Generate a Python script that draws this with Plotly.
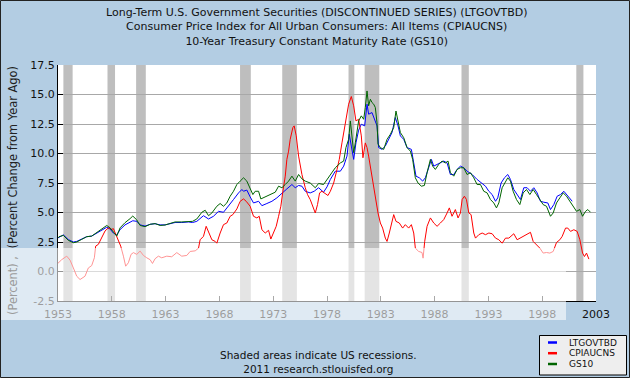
import plotly.graph_objects as go

# ---------------- data ----------------
ltgov_years = [1953.0, 1953.09, 1953.50, 1953.96, 1954.43, 1954.74, 1955.20, 1955.67, 1956.13, 1956.60,
               1957.06, 1957.53, 1957.84, 1958.15, 1958.46, 1958.77, 1959.23, 1959.70, 1959.95, 1960.32,
               1960.63, 1961.09, 1961.56, 1962.02, 1962.49, 1962.95, 1963.42, 1963.88, 1964.50, 1965.12,
               1965.50, 1965.90, 1966.52, 1966.99, 1967.45, 1967.92, 1968.38, 1968.85, 1969.31, 1969.78,
               1970.09, 1970.24, 1970.55, 1970.86, 1971.17, 1971.64, 1971.95, 1972.41, 1972.88, 1973.34,
               1973.81, 1974.27, 1974.74, 1975.05, 1975.36, 1975.67, 1975.98, 1976.44, 1976.81, 1977.22,
               1977.68, 1978.00, 1978.31, 1978.77, 1979.24, 1979.55, 1979.86, 1980.07, 1980.26, 1980.48,
               1980.69, 1980.94, 1981.19, 1981.50, 1981.72, 1981.87, 1982.18, 1982.43, 1982.65, 1982.80,
               1983.11, 1983.42, 1983.73, 1984.04, 1984.35, 1984.60, 1984.82, 1985.13, 1985.44, 1985.84,
               1986.06, 1986.27, 1986.58, 1986.89, 1987.14, 1987.39, 1987.70, 1987.92, 1988.23, 1988.54,
               1988.85, 1989.16, 1989.47, 1989.78, 1990.09, 1990.40, 1990.71, 1991.02, 1991.49, 1991.95,
               1992.26, 1992.73, 1993.04, 1993.35, 1993.66, 1993.87, 1994.18, 1994.49, 1994.80, 1995.05,
               1995.36, 1995.67, 1995.98, 1996.29, 1996.60, 1996.91, 1997.22, 1997.53, 1997.84, 1998.15,
               1998.52, 1998.77, 1999.08, 1999.39, 1999.70, 2000.01, 2000.26, 2000.57, 2000.79]
ltgov_vals = [2.85, 2.90, 3.10, 2.70, 2.50, 2.55, 2.75, 2.95, 3.00, 3.25,
              3.50, 3.75, 3.60, 3.25, 3.10, 3.55, 3.95, 4.20, 4.30, 4.25,
              3.95, 3.85, 4.00, 4.05, 3.95, 3.95, 4.05, 4.15, 4.15, 4.20,
              4.15, 4.25, 4.73, 4.45, 4.68, 5.10, 5.02, 5.53, 6.10, 6.66,
              6.95, 6.80, 6.90, 6.32, 5.81, 5.95, 5.58, 5.76, 5.95, 6.24,
              6.66, 7.00, 7.37, 7.10, 7.29, 7.23, 6.80, 6.66, 6.80, 7.10,
              6.72, 7.17, 7.80, 8.50, 8.50, 8.93, 9.78, 11.63, 10.63, 9.50,
              10.90, 11.98, 12.48, 12.34, 14.18, 13.33, 13.47, 12.90, 12.34, 10.50,
              10.35, 10.63, 11.20, 11.77, 13.05, 12.34, 11.49, 11.20, 10.50, 10.35,
              9.20, 8.08, 7.94, 7.66, 7.94, 8.65, 9.50, 8.93, 9.07, 9.20,
              9.36, 9.20, 8.22, 8.22, 8.65, 8.93, 8.79, 8.50, 8.22, 7.80,
              7.57, 7.23, 6.80, 6.52, 5.95, 6.24, 7.50, 7.94, 8.22, 7.80,
              6.95, 6.52, 6.10, 7.10, 7.10, 6.80, 7.10, 6.66, 5.95, 5.87,
              5.81, 5.25, 5.67, 6.38, 6.52, 6.80, 6.52, 6.10, 5.95]

cpi_years = [1953.0, 1953.09, 1953.34, 1953.81, 1954.12, 1954.43, 1954.74, 1955.05, 1955.51, 1955.82,
             1956.13, 1956.38, 1956.50, 1956.75, 1957.06, 1957.37, 1957.68, 1957.99, 1958.15, 1958.30,
             1958.61, 1958.83, 1959.08, 1959.29, 1959.54, 1959.79, 1960.01, 1960.32, 1960.63, 1960.94,
             1961.25, 1961.56, 1961.78, 1962.02, 1962.33, 1962.64, 1963.11, 1963.57, 1964.04, 1964.50,
             1964.97, 1965.28, 1965.75, 1966.06, 1966.21, 1966.52, 1966.77, 1966.99, 1967.30, 1967.61,
             1967.76, 1968.07, 1968.38, 1968.69, 1969.00, 1969.25, 1969.62, 1969.93, 1970.24, 1970.49,
             1970.86, 1971.17, 1971.48, 1971.70, 1971.95, 1972.26, 1972.57, 1972.78, 1973.03, 1973.28,
             1973.50, 1973.71, 1973.90, 1974.12, 1974.27, 1974.43, 1974.58, 1974.83, 1974.95, 1975.14,
             1975.36, 1975.67, 1975.98, 1976.19, 1976.44, 1976.69, 1976.91, 1977.12, 1977.31, 1977.53,
             1977.84, 1978.09, 1978.31, 1978.62, 1978.93, 1979.14, 1979.39, 1979.64, 1979.86, 1980.01,
             1980.26, 1980.48, 1980.69, 1980.94, 1981.19, 1981.34, 1981.56, 1981.72, 1981.87, 1982.09,
             1982.34, 1982.55, 1982.74, 1982.96, 1983.17, 1983.42, 1983.58, 1983.79, 1984.04, 1984.20,
             1984.41, 1984.72, 1985.03, 1985.28, 1985.59, 1985.84, 1986.06, 1986.21, 1986.52, 1986.83,
             1986.93, 1987.08, 1987.30, 1987.61, 1987.92, 1988.23, 1988.54, 1988.85, 1989.16, 1989.37,
             1989.62, 1989.93, 1990.18, 1990.40, 1990.56, 1990.77, 1990.96, 1991.18, 1991.39, 1991.64,
             1991.80, 1992.11, 1992.42, 1992.73, 1993.04, 1993.35, 1993.66, 1993.97, 1994.28, 1994.59,
             1994.90, 1995.36, 1995.67, 1995.98, 1996.29, 1996.60, 1996.91, 1997.16, 1997.47, 1997.78,
             1998.09, 1998.40, 1998.71, 1999.02, 1999.33, 1999.64, 1999.86, 2000.17, 2000.38, 2000.63,
             2000.94, 2001.25, 2001.50, 2001.75, 2001.93, 2002.12, 2002.34]
cpi_vals = [0.70, 0.80, 1.00, 1.30, 0.96, 0.30, -0.40, -0.68, -0.40, 0.30,
            0.50, 1.16, 2.15, 2.30, 2.87, 3.43, 3.70, 3.57, 3.63, 3.30,
            2.58, 2.15, 1.30, 0.45, 0.74, 1.45, 1.60, 1.45, 1.73, 1.36,
            1.16, 1.00, 0.68, 1.08, 1.30, 1.16, 1.30, 1.25, 1.60, 1.30,
            1.36, 1.70, 1.75, 1.98, 2.69, 2.98, 3.83, 3.40, 2.69, 2.55,
            2.40, 3.26, 3.97, 4.11, 4.68, 4.82, 5.30, 5.95, 6.15, 5.95,
            5.53, 4.68, 4.54, 4.68, 3.54, 3.26, 3.49, 2.75, 3.26, 3.83,
            4.68, 5.53, 6.80, 8.08, 9.50, 10.20, 11.20, 12.20, 12.34, 11.50,
            9.78, 8.22, 7.10, 6.52, 6.10, 5.53, 4.96, 5.67, 6.66, 6.80,
            6.60, 6.44, 6.80, 7.50, 8.65, 9.50, 10.90, 12.34, 13.47, 14.18,
            14.83, 14.04, 12.76, 12.90, 11.49, 9.64, 10.90, 10.50, 9.78, 8.50,
            6.95, 6.10, 4.96, 4.11, 3.68, 2.83, 2.55, 3.26, 4.25, 4.82,
            4.25, 4.11, 3.68, 3.97, 3.68, 3.97, 3.26, 1.98, 1.70, 1.61,
            1.13, 2.55, 3.83, 4.54, 4.11, 3.83, 4.11, 4.40, 4.96, 5.39,
            4.68, 5.25, 4.54, 4.96, 6.10, 6.38, 6.10, 4.96, 4.82, 3.26,
            2.83, 3.12, 3.26, 3.12, 3.26, 3.20, 2.83, 2.69, 2.40, 2.83,
            2.83, 3.20, 2.69, 2.83, 2.98, 3.12, 3.32, 2.55, 2.27, 1.98,
            1.56, 1.61, 1.56, 1.70, 2.46, 2.69, 2.98, 3.68, 3.68, 3.40,
            3.54, 3.40, 2.69, 1.56, 1.27, 1.56, 1.05]

gs10_years = [1953.0, 1953.09, 1953.50, 1953.96, 1954.43, 1954.74, 1955.20, 1955.67, 1956.13, 1956.60,
              1957.06, 1957.53, 1957.84, 1958.15, 1958.46, 1958.77, 1959.23, 1959.70, 1959.95, 1960.32,
              1960.63, 1961.09, 1961.56, 1962.02, 1962.49, 1962.95, 1963.42, 1963.88, 1964.50, 1965.12,
              1965.50, 1965.90, 1966.37, 1966.68, 1966.99, 1967.30, 1967.76, 1968.07, 1968.38, 1968.69,
              1969.00, 1969.31, 1969.62, 1969.93, 1970.24, 1970.55, 1970.86, 1971.11, 1971.33, 1971.64,
              1971.85, 1972.26, 1972.72, 1973.19, 1973.50, 1973.81, 1974.12, 1974.43, 1974.74, 1975.05,
              1975.36, 1975.67, 1975.98, 1976.44, 1976.91, 1977.22, 1977.68, 1978.00, 1978.31, 1978.77,
              1979.24, 1979.55, 1979.76, 1980.01, 1980.17, 1980.32, 1980.48, 1980.63, 1980.79, 1980.94,
              1981.19, 1981.41, 1981.56, 1981.72, 1981.87, 1982.03, 1982.18, 1982.34, 1982.49, 1982.65,
              1982.74, 1982.96, 1983.27, 1983.58, 1983.89, 1984.20, 1984.41, 1984.60, 1984.82, 1985.13,
              1985.44, 1985.75, 1985.96, 1986.21, 1986.46, 1986.77, 1987.05, 1987.30, 1987.61, 1987.82,
              1988.07, 1988.38, 1988.69, 1989.00, 1989.25, 1989.47, 1989.78, 1990.09, 1990.40, 1990.71,
              1991.02, 1991.33, 1991.64, 1991.95, 1992.26, 1992.57, 1992.88, 1993.19, 1993.50, 1993.75,
              1993.97, 1994.28, 1994.59, 1994.80, 1995.05, 1995.30, 1995.61, 1995.92, 1996.23, 1996.54,
              1996.85, 1997.16, 1997.47, 1997.78, 1998.09, 1998.40, 1998.62, 1998.77, 1999.02, 1999.33,
              1999.64, 1999.95, 2000.26, 2000.57, 2000.88, 2001.19, 2001.50, 2001.75, 2002.03, 2002.24,
              2002.49]
gs10_vals = [2.85, 2.95, 3.06, 2.64, 2.44, 2.50, 2.72, 2.95, 3.00, 3.30,
             3.57, 3.90, 3.70, 3.30, 3.00, 3.70, 4.14, 4.48, 4.70, 4.37,
             3.90, 3.80, 4.00, 4.06, 3.90, 3.94, 4.06, 4.20, 4.20, 4.20,
             4.25, 4.45, 5.02, 5.19, 4.73, 4.96, 5.53, 5.76, 5.53, 5.81,
             6.38, 6.80, 7.37, 7.66, 7.94, 7.66, 6.95, 6.52, 6.80, 6.80,
             6.15, 6.32, 6.52, 6.72, 7.23, 7.10, 7.37, 7.66, 8.08, 7.66,
             8.22, 7.85, 7.66, 7.50, 7.10, 7.46, 7.37, 7.80, 8.22, 8.79,
             9.20, 9.36, 10.50, 11.20, 12.76, 11.34, 10.07, 10.90, 11.90, 12.76,
             13.19, 12.90, 13.90, 15.30, 14.04, 14.60, 14.32, 14.18, 13.90, 12.60,
             10.80, 10.50, 10.35, 11.20, 11.63, 12.20, 13.60, 12.76, 11.77, 11.34,
             10.50, 10.20, 9.50, 7.94, 7.50, 7.23, 7.29, 8.37, 9.50, 8.93,
             8.65, 9.07, 9.36, 9.20, 9.36, 8.37, 8.08, 8.65, 8.79, 8.79,
             8.22, 8.37, 7.94, 7.37, 7.37, 6.80, 6.66, 6.10, 5.81, 5.39,
             5.81, 7.10, 7.66, 7.94, 7.66, 6.80, 6.10, 5.67, 6.66, 6.95,
             6.52, 6.95, 6.52, 6.10, 5.67, 5.53, 5.10, 4.68, 4.96, 5.81,
             6.24, 6.66, 6.38, 5.95, 5.53, 5.10, 5.25, 4.68, 5.10, 5.25,
             5.02]

series_names = ["LTGOVTBD", "CPIAUCNS", "GS10"]
series_colors = ["#0000FF", "#FF0000", "#006400"]

recession_start = [1953.50, 1957.60, 1960.26, 1969.92, 1973.84, 1980.00, 1981.50, 1990.50, 2001.17]
recession_end = [1954.36, 1958.30, 1961.16, 1970.92, 1975.20, 1980.54, 1982.86, 1991.18, 2001.83]

x_tick_vals = [1953, 1958, 1963, 1968, 1973, 1978, 1983, 1988, 1993, 1998, 2003]
x_tick_text = ["1953", "1958", "1963", "1968", "1973", "1978", "1983", "1988", "1993", "1998", "2003"]
y_tick_vals = [-2.5, 0.0, 2.5, 5.0, 7.5, 10.0, 12.5, 15.0, 17.5]
y_tick_text = ["-2.5", "0.0", "2.5", "5.0", "7.5", "10.0", "12.5", "15.0", "17.5"]

title_lines = [
    "Long-Term U.S. Government Securities (DISCONTINUED SERIES) (LTGOVTBD)",
    "Consumer Price Index for All Urban Consumers: All Items (CPIAUCNS)",
    "10-Year Treasury Constant Maturity Rate (GS10)",
]
footer_lines = ["Shaded areas indicate US recessions.", "2011 research.stlouisfed.org"]
y_title_parts = ["(Percent) ,", "(Percent Change from Year Ago)"]

# ---------------- figure ----------------
W, H = 630, 378
ML, MR, MT, MB = 58, 34, 65, 77
PW, PH = W - ML - MR, H - MT - MB
FONT = "DejaVu Sans, Verdana, sans-serif"


def px(x):  # image pixel x -> paper
    return (x - ML) / PW


def py(y):  # image pixel y -> paper
    return (H - MB - y) / PH


fig = go.Figure()
all_x = [ltgov_years, cpi_years, gs10_years]
all_y = [ltgov_vals, cpi_vals, gs10_vals]
for name, color, xs, ys in zip(series_names, series_colors, all_x, all_y):
    fig.add_trace(go.Scatter(x=xs, y=ys, mode="lines", name=name,
                             line=dict(color=color, width=1.0), showlegend=False))

shapes = []
for s, e in zip(recession_start, recession_end):
    shapes.append(dict(type="rect", xref="x", yref="paper", x0=s, x1=e, y0=0, y1=1,
                       fillcolor="#BEBEBE", line=dict(width=0), layer="below"))

# translucent band as in the reference picture
shapes.append(dict(type="rect", xref="paper", yref="paper", x0=px(0), x1=px(566),
                   y0=py(320), y1=py(248), fillcolor="rgba(255,255,255,0.58)",
                   line=dict(width=0), layer="above"))

# legend box (drawn by hand to match the compact reference legend)
shapes.append(dict(type="rect", xref="paper", yref="paper", x0=px(539.5), x1=px(626.5),
                   y0=py(375), y1=py(335.5), fillcolor="#EEEEEE",
                   line=dict(color="#000000", width=1), layer="above"))
legend_rows = [342.5, 353.2, 364]
annotations = []
for name, color, yy in zip(series_names, series_colors, legend_rows):
    shapes.append(dict(type="line", xref="paper", yref="paper", x0=px(548), x1=px(557),
                       y0=py(yy), y1=py(yy), line=dict(color=color, width=2.5), layer="above"))
    annotations.append(dict(text=name, xref="paper", yref="paper", x=px(567), y=py(yy),
                            xanchor="left", yanchor="middle", showarrow=False,
                            font=dict(family=FONT, size=9, color="#111111")))

# outer border
shapes.append(dict(type="rect", xref="paper", yref="paper", x0=px(0.5), x1=px(629.5),
                   y0=py(377.5), y1=py(0.5), line=dict(color="#222222", width=1),
                   fillcolor="rgba(0,0,0,0)", layer="above"))

# title: one multi-line text block
annotations.append(dict(text="<br>".join(title_lines), xref="paper", yref="paper",
                        x=px(316.5), y=py(26.5), xanchor="center", yanchor="middle",
                        showarrow=False, align="center",
                        font=dict(family=FONT, size=11, color="#111111")))
# footer: one multi-line text block
annotations.append(dict(text="<br>".join(footer_lines), xref="paper", yref="paper",
                        x=px(318), y=py(362), xanchor="center", yanchor="middle",
                        showarrow=False, align="center",
                        font=dict(family=FONT, size=10.5, color="#111111")))

# y-axis title in two pieces (lower piece faded by the translucent band)
annotations.append(dict(text=y_title_parts[0], xref="paper", yref="paper",
                        x=px(12.5), y=py(317), textangle=-90,
                        xanchor="center", yanchor="bottom", showarrow=False,
                        font=dict(family=FONT, size=11.4, color="#9A9A9A")))
annotations.append(dict(text=y_title_parts[1], xref="paper", yref="paper",
                        x=px(12.5), y=py(65), textangle=-90,
                        xanchor="center", yanchor="top", showarrow=False,
                        font=dict(family=FONT, size=11.4, color="#222222")))

fig.update_layout(
    width=W, height=H,
    margin=dict(l=ML, r=MR, t=MT, b=MB, pad=0),
    paper_bgcolor="#B3CDE3", plot_bgcolor="#FFFFFF",
    font=dict(family=FONT, size=11, color="#111111"),
    showlegend=False,
    shapes=shapes, annotations=annotations,
    xaxis=dict(range=[1953, 2003], tickmode="array", tickvals=x_tick_vals, ticktext=x_tick_text,
               ticks="inside", ticklen=5, tickcolor="#333333", tickwidth=1, ticklabelstandoff=3,
               showline=True, linecolor="#000000", linewidth=1, showgrid=False, zeroline=False,
               tickfont=dict(family=FONT, size=11, color="#111111")),
    yaxis=dict(range=[-2.5, 17.5], tickmode="array", tickvals=y_tick_vals, ticktext=y_tick_text,
               ticks="inside", ticklen=5, tickcolor="#000000", tickwidth=1,
               showline=True, linecolor="#000000", linewidth=1,
               showgrid=True, gridcolor="#A8A8A8", gridwidth=1, zeroline=False,
               tickfont=dict(family=FONT, size=11, color="#111111")),
)

fig.write_html("out.html", config={"displayModeBar": False},
               post_script="document.body.style.margin='0';document.body.style.overflow='hidden';")
